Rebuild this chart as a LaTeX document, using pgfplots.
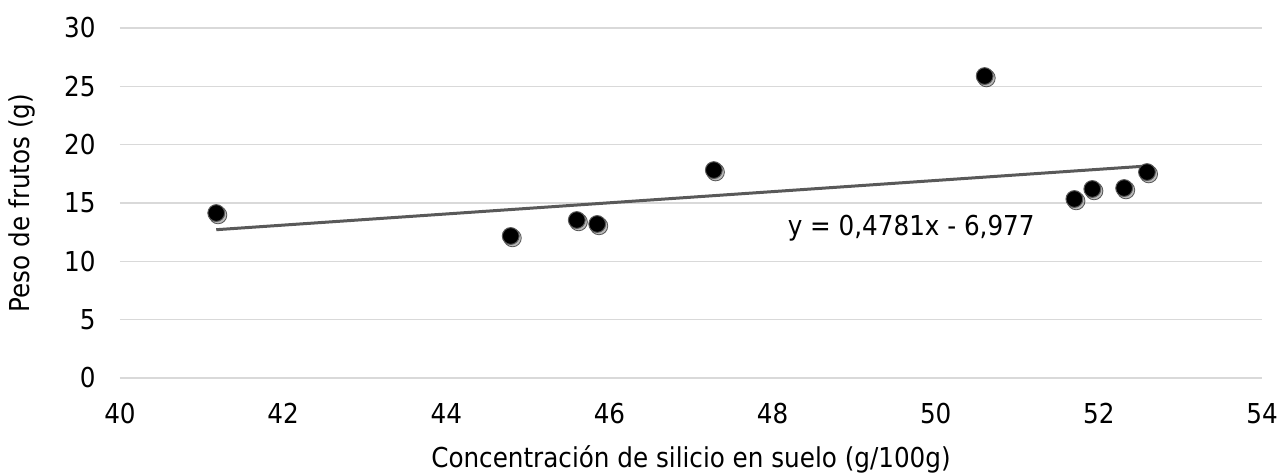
\documentclass[border=0pt]{standalone}
\usepackage{pgfplots}
\pgfplotsset{compat=1.18}
\usepackage{fontspec}
\setmainfont{DejaVu Sans Condensed}
\definecolor{gridc}{HTML}{D9D9D9}
\definecolor{trend}{HTML}{595959}
\begin{document}
\fontsize{13.7pt}{16pt}\selectfont
\begin{tikzpicture}
\useasboundingbox (0,0) rectangle (639.5pt,237pt);
\begin{axis}[
  at={(60pt,48pt)}, anchor=south west,
  scale only axis, width=571pt, height=175pt,
  xmin=40, xmax=54, ymin=0, ymax=30,
  xtick={40,42,...,54}, ytick={0,5,...,30},
  axis line style={draw=none},
  tick style={draw=none},
  ymajorgrids, major grid style={gridc, line width=0.75pt},
  /pgf/number format/assume math mode=true,
  ticklabel style={font=\fontsize{13.7pt}{16pt}\selectfont},
  yticklabel style={xshift=-7.5pt},
  xticklabel style={yshift=-8pt},
  label style={font=\fontsize{13.7pt}{16pt}\selectfont},
  xlabel={Concentración de silicio en suelo (g/100g)},
  ylabel={Peso de frutos (g)},
  xlabel style={at={(axis description cs:0.5,0)}, anchor=base, yshift=-45pt},
  ylabel style={at={(axis description cs:-0.0858,0.5)}, anchor=center},
  clip=false,
]
\addplot[trend, line width=1.5pt] coordinates {(41.18,12.71) (52.59,18.17)};
\addplot[only marks, mark=*, mark size=4.4pt, mark options={fill=black!45, draw=none, opacity=0.6, xshift=0.9pt, yshift=-1pt}] coordinates {
(41.18,14.14) (44.79,12.17) (45.60,13.54) (45.85,13.20) (47.28,17.82)
(50.60,25.88) (51.70,15.34) (51.92,16.20) (52.31,16.28) (52.59,17.65)};
\addplot[only marks, mark=*, mark size=4.2pt, mark options={fill=black, draw=gray!70!black, line width=0.5pt}] coordinates {
(41.18,14.14) (44.79,12.17) (45.60,13.54) (45.85,13.20) (47.28,17.82)
(50.60,25.88) (51.70,15.34) (51.92,16.20) (52.31,16.28) (52.59,17.65)};
\node[anchor=center] at (axis cs:49.70,12.85) {y = 0,4781x - 6,977};
\end{axis}
\end{tikzpicture}
\end{document}
